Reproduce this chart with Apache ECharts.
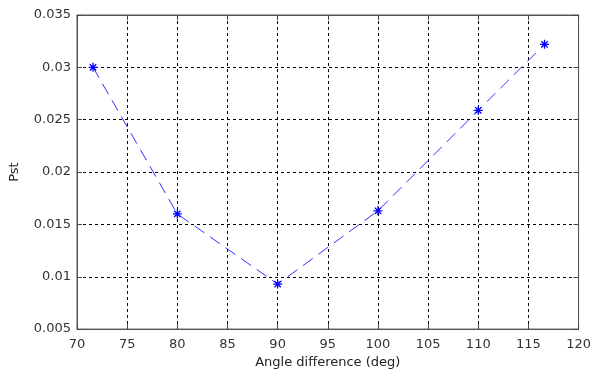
<!DOCTYPE html>
<html><head><meta charset="utf-8">
<script src="https://cdn.jsdelivr.net/npm/echarts@6/dist/echarts.min.js"></script>
<style>html,body{margin:0;padding:0;background:#fff}#c{width:594px;height:374px}</style>
</head><body><div id="c"></div>
<script>
const angles = [71.6, 80, 90, 100, 110, 116.6];
const pst = [0.0300, 0.0160, 0.0093, 0.0163, 0.0259, 0.0322];
const xTicks = [70, 75, 80, 85, 90, 95, 100, 105, 110, 115, 120];
const yTicks = [0.005, 0.01, 0.015, 0.02, 0.025, 0.03, 0.035];

const chart = echarts.init(document.getElementById('c'), null, {renderer: 'canvas'});
const font = 'DejaVu Sans, Verdana, sans-serif';
const axisLine = {show: true, lineStyle: {color: '#555', width: 1}};
const gridLine = {show: true, lineStyle: {color: '#000', type: [3, 3], width: 1}};
const star = 'path://M0,-5L0,5M-5,0L5,0M-3.5,-3.5L3.5,3.5M-3.5,3.5L3.5,-3.5';
chart.setOption({
  animation: false,
  grid: {left: 74, right: 12, top: 15, bottom: 43, show: true, borderColor: '#555', borderWidth: 1},
  xAxis: [{
    type: 'value', min: 70, max: 120, interval: 5,
    name: 'Angle difference (deg)', nameLocation: 'middle', nameGap: 24,
    nameTextStyle: {fontFamily: font, fontSize: 13, color: '#222'},
    axisLine: axisLine, axisTick: {inside: true, length: 5, lineStyle: {color: '#444'}},
    axisLabel: {fontFamily: font, fontSize: 13, color: '#333', margin: 9},
    splitLine: gridLine
  }, {
    type: 'value', position: 'top', min: 70, max: 120, interval: 5,
    axisLine: axisLine, axisTick: {inside: true, length: 5, lineStyle: {color: '#444'}},
    axisLabel: {show: false}, splitLine: {show: false}
  }],
  yAxis: [{
    type: 'value', min: 0.005, max: 0.035, interval: 0.005,
    name: 'Pst', nameLocation: 'middle', nameGap: 56, nameRotate: 90,
    nameTextStyle: {fontFamily: font, fontSize: 13, color: '#222'},
    axisLine: axisLine, axisTick: {inside: true, length: 5, lineStyle: {color: '#444'}},
    axisLabel: {fontFamily: font, fontSize: 13, color: '#333', margin: 6,
      formatter: v => String(parseFloat(v.toFixed(3)))},
    splitLine: gridLine
  }, {
    type: 'value', position: 'right', min: 0.005, max: 0.035, interval: 0.005,
    axisLine: axisLine, axisTick: {inside: true, length: 5, lineStyle: {color: '#444'}},
    axisLabel: {show: false}, splitLine: {show: false}
  }],
  series: [{
    type: 'line',
    data: angles.map((a, i) => [a, pst[i]]),
    lineStyle: {color: '#3030ff', width: 1, type: [12, 7]},
    symbol: star, symbolSize: 9,
    itemStyle: {color: 'rgba(0,0,0,0)', borderColor: '#0000ff', borderWidth: 1.3},
    emphasis: {disabled: true}
  }]
});
</script></body></html>
